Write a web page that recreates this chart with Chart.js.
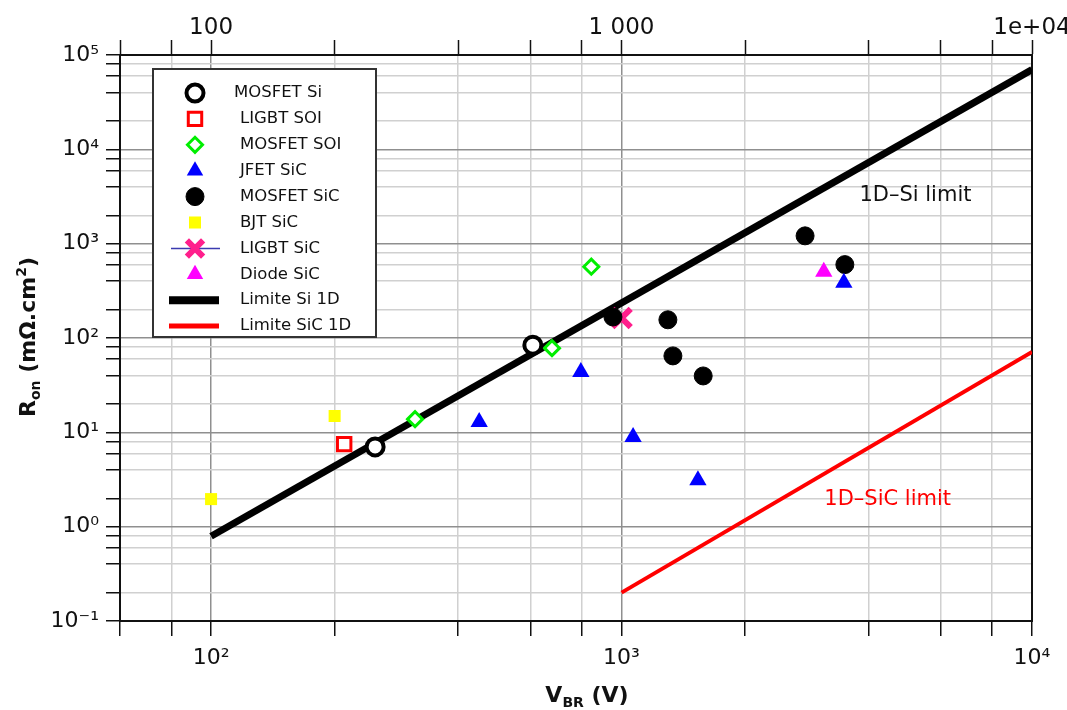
<!DOCTYPE html>
<html>
<head>
<meta charset="utf-8">
<script src="https://cdn.jsdelivr.net/npm/chart.js@4"></script>
<style>
  html, body { margin: 0; padding: 0; background: #fff; }
  #wrap { width: 1067px; height: 710px; }
</style>
</head>
<body>
<div id="wrap"><canvas id="myChart"></canvas></div>
<script>
// V_BR (V) and R_on (mOhm.cm2)
const mosfetSiV = [251, 608];
const mosfetSiR = [7.0, 84];
const ligbtSoiV = [211];
const ligbtSoiR = [7.5];
const mosfetSoiV = [314, 677, 844];
const mosfetSoiR = [13.8, 78, 570];
const jfetSicV = [450, 796, 1067, 1535, 3480];
const jfetSicR = [12.9, 43.6, 8.9, 3.1, 385];
const mosfetSicV = [953, 1297, 1334, 1581, 2800, 3500];
const mosfetSicR = [167, 156, 64.6, 39.6, 1210, 600];
const bjtSicV = [100, 200];
const bjtSicR = [1.96, 14.9];
const ligbtSicV = [1000];
const ligbtSicR = [163];
const diodeSicV = [3110];
const diodeSicR = [503];
const limSiV = [100, 10000];
const limSiR = [0.79, 70000];
const limSicV = [1000, 10000];
const limSicR = [0.2, 71];

const xTicks = [60, 80, 100, 200, 400, 600, 800, 1000, 2000, 4000, 6000, 8000, 10000];
const yTicks = [0.1, 0.2, 0.4, 0.6, 0.8, 1, 2, 4, 6, 8, 10, 20, 40, 60, 80, 100, 200, 400, 600, 800,
  1000, 2000, 4000, 6000, 8000, 10000, 20000, 40000, 60000, 80000, 100000];
const topLabels = { 100: "100", 1000: "1 000", 10000: "1e+04" };

const FONT = "'DejaVu Sans', sans-serif";
const SUP = { "-": "\u207B", "0": "\u2070", "1": "\u00B9", "2": "\u00B2", "3": "\u00B3", "4": "\u2074", "5": "\u2075" };

function pts(xs, ys) {
  return xs.map((x, i) => ({ x: x, y: ys[i] }));
}

function isDecade(v) {
  const l = Math.log10(v);
  return Math.abs(l - Math.round(l)) < 1e-6;
}

function powLabel(v) {
  if (!isDecade(v)) return "";
  const e = String(Math.round(Math.log10(v)));
  return "10" + e.split("").map((c) => SUP[c]).join("");
}

function fixTicks(list) {
  return (scale) => { scale.ticks = list.map((v) => ({ value: v })); };
}

function fitTo(prop, size) {
  return (scale) => {
    scale[prop] = size;
    scale.paddingLeft = 0; scale.paddingRight = 0;
    scale.paddingTop = 0; scale.paddingBottom = 0;
  };
}

const gridOpts = {
  color: (c) => (c.tick && isDecade(c.tick.value) ? "#8f8f8f" : "#d0d0d0"),
  lineWidth: 1.5,
  tickColor: "#111",
  tickWidth: 1.5,
  tickLength: 15,
};

const datasets = [
  { label: "MOSFET Si", data: pts(mosfetSiV, mosfetSiR), pointStyle: "circle", pointRadius: 8.5,
    pointBorderWidth: 4, borderColor: "#000", backgroundColor: "#fff" },
  { label: "LIGBT SOI", data: pts(ligbtSoiV, ligbtSoiR), pointStyle: "rect", pointRadius: 9.5,
    pointBorderWidth: 3, borderColor: "#ff0000", backgroundColor: "#fff" },
  { label: "MOSFET SOI", data: pts(mosfetSoiV, mosfetSoiR), pointStyle: "rectRot", pointRadius: 7.5,
    pointBorderWidth: 3, borderColor: "#00ee00", backgroundColor: "#fff" },
  { label: "JFET SiC", data: pts(jfetSicV, jfetSicR), pointStyle: "triangle", pointRadius: 10,
    pointBorderWidth: 0, borderColor: "#0000ff", backgroundColor: "#0000ff" },
  { label: "MOSFET SiC", data: pts(mosfetSicV, mosfetSicR), pointStyle: "circle", pointRadius: 9,
    pointBorderWidth: 1, borderColor: "#000", backgroundColor: "#000" },
  { label: "BJT SiC", data: pts(bjtSicV, bjtSicR), pointStyle: "rect", pointRadius: 8.5,
    pointBorderWidth: 0, borderColor: "#ffff00", backgroundColor: "#ffff00" },
  { label: "LIGBT SiC", data: pts(ligbtSicV, ligbtSicR), pointStyle: "crossRot", pointRadius: 13,
    pointBorderWidth: 6, borderColor: "#ff1f8c", backgroundColor: "#ff1f8c", legendLine: "#3b3bb0" },
  { label: "Diode SiC", data: pts(diodeSicV, diodeSicR), pointStyle: "triangle", pointRadius: 10,
    pointBorderWidth: 0, borderColor: "#ff00ff", backgroundColor: "#ff00ff" },
  { label: "Limite Si 1D", data: pts(limSiV, limSiR), showLine: true, pointRadius: 0,
    borderWidth: 7, borderColor: "#000", isLine: true },
  { label: "Limite SiC 1D", data: pts(limSicV, limSicR), showLine: true, pointRadius: 0,
    borderWidth: 4, borderColor: "#ff0000", isLine: true },
];

// legend box, limit labels and axis titles
const extras = {
  id: "extras",
  afterDraw(chart) {
    const ctx = chart.ctx;
    const x = chart.scales.x, y = chart.scales.y;
    ctx.save();

    // legend
    ctx.fillStyle = "#fff";
    ctx.fillRect(153, 69, 223, 268);
    ctx.strokeStyle = "#333";
    ctx.lineWidth = 2;
    ctx.strokeRect(153, 69, 223, 268);
    ctx.font = "16.5px " + FONT;
    ctx.textBaseline = "middle";
    ctx.textAlign = "left";
    chart.data.datasets.forEach((ds, i) => {
      const ly = 93 + i * 25.9;
      const mx = 195;
      if (ds.isLine) {
        ctx.strokeStyle = ds.borderColor;
        ctx.lineWidth = ds.borderWidth + 1;
        ctx.beginPath(); ctx.moveTo(169, ly); ctx.lineTo(219, ly); ctx.stroke();
      } else {
        if (ds.legendLine) {
          ctx.strokeStyle = ds.legendLine;
          ctx.lineWidth = 1.5;
          ctx.beginPath(); ctx.moveTo(171, ly); ctx.lineTo(220, ly); ctx.stroke();
        }
        ctx.fillStyle = ds.backgroundColor;
        ctx.strokeStyle = ds.borderColor;
        ctx.lineWidth = ds.pointBorderWidth;
        Chart.helpers.drawPoint(ctx, {
          pointStyle: ds.pointStyle, radius: Math.min(ds.pointRadius, ds.pointStyle === "crossRot" ? 11.5 : 9.5),
          rotation: 0, borderWidth: ds.pointBorderWidth,
        }, mx, ly);
      }
      ctx.fillStyle = "#111";
      ctx.fillText(ds.label, i === 0 ? 234 : 240, ly);
    });

    // limit annotations
    ctx.textAlign = "center";
    ctx.font = "21px " + FONT;
    ctx.fillStyle = "#111";
    ctx.fillText("1D\u2013Si limit", x.getPixelForValue(5200), y.getPixelForValue(3200));
    ctx.fillStyle = "#ff0000";
    ctx.fillText("1D\u2013SiC limit", x.getPixelForValue(4450), y.getPixelForValue(1.93));

    // x title: V_BR (V)
    ctx.fillStyle = "#111";
    ctx.textAlign = "left";
    ctx.textBaseline = "alphabetic";
    const big = "bold 22px " + FONT, small = "bold 14px " + FONT;
    let parts = [["V", big, 0], ["BR", small, 5], [" (V)", big, 0]];
    let w = 0;
    parts.forEach((p) => { ctx.font = p[1]; w += ctx.measureText(p[0]).width; });
    let cx = 587 - w / 2;
    parts.forEach((p) => { ctx.font = p[1]; ctx.fillText(p[0], cx, 702 + p[2]); cx += ctx.measureText(p[0]).width; });

    // y title: R_on (mOhm.cm2)
    ctx.translate(35, 337);
    ctx.rotate(-Math.PI / 2);
    parts = [["R", big, 0], ["on", small, 5], [" (m\u03A9.cm", big, 0], ["2", small, -9], [")", big, 0]];
    w = 0;
    parts.forEach((p) => { ctx.font = p[1]; w += ctx.measureText(p[0]).width; });
    cx = -w / 2;
    parts.forEach((p) => { ctx.font = p[1]; ctx.fillText(p[0], cx, p[2]); cx += ctx.measureText(p[0]).width; });

    ctx.restore();
  },
};

function initChart(target) {
  const tickFont = { family: FONT, size: 22 };
  const config = {
    type: "scatter",
    data: { datasets: datasets },
    options: {
      responsive: false,
      animation: false,
      layout: { padding: 0 },
      plugins: { legend: { display: false }, tooltip: { enabled: false } },
      scales: {
        x: {
          type: "logarithmic", position: "bottom", min: 60, max: 10000,
          afterBuildTicks: fixTicks(xTicks), afterFit: fitTo("height", 89),
          grid: gridOpts,
          border: { color: "#111", width: 2 },
          ticks: { font: tickFont, color: "#111", padding: 9, autoSkip: false, maxRotation: 0,
            callback: (v) => powLabel(v) },
        },
        x2: {
          type: "logarithmic", position: "top", min: 60, max: 10000,
          afterBuildTicks: fixTicks(xTicks), afterFit: fitTo("height", 55),
          grid: { drawOnChartArea: false, tickColor: "#111", tickWidth: 1.5, tickLength: 15 },
          border: { color: "#111", width: 2 },
          ticks: { font: { family: FONT, size: 23 }, color: "#111", padding: -2, autoSkip: false, maxRotation: 0,
            callback: (v) => topLabels[v] || "" },
        },
        y: {
          type: "logarithmic", position: "left", min: 0.1, max: 100000,
          afterBuildTicks: fixTicks(yTicks), afterFit: fitTo("width", 120),
          grid: Object.assign({}, gridOpts, { tickLength: 14 }),
          border: { color: "#111", width: 2 },
          ticks: { font: tickFont, color: "#111", padding: 7, autoSkip: false,
            callback: (v) => powLabel(v) },
        },
        y2: {
          type: "linear", position: "right", min: 0, max: 1,
          afterFit: fitTo("width", 35),
          grid: { drawOnChartArea: false, drawTicks: false },
          border: { color: "#111", width: 2 },
          ticks: { display: false },
        },
      },
    },
    plugins: [extras],
  };
  return new Chart(target, config);
}

document.addEventListener("DOMContentLoaded", () => {
  const canvas = document.querySelector("#myChart");
  canvas.width = 1067;
  canvas.height = 710;
  initChart(canvas);
});
</script>
</body>
</html>
